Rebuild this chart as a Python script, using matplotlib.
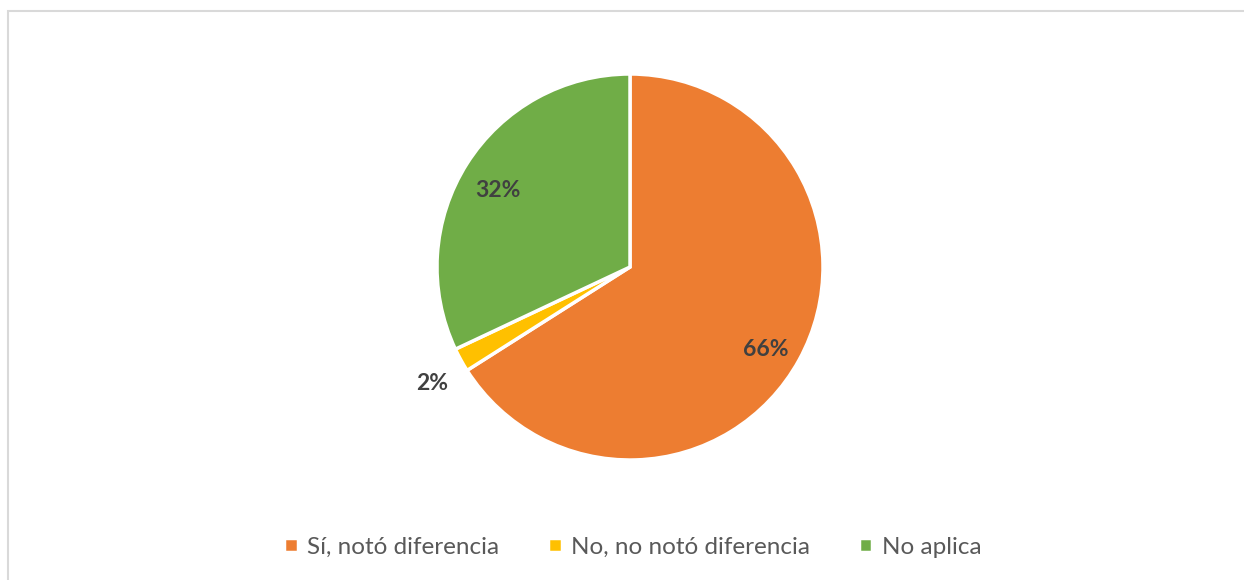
import numpy as np
import matplotlib.pyplot as plt
from matplotlib.patches import Rectangle

#%% donnees
categories = ["Sí, notó diferencia", "No, no notó diferencia", "No aplica"]
valeurs = [66, 2, 32]
couleurs = ["#ED7D31", "#FFC000", "#70AD47"]

plt.rcParams['font.family'] = ['Lato', 'DejaVu Sans']

#%% figure
fig = plt.figure(figsize=(12.44, 5.8), dpi=100)

# cadre gris (seulement haut et gauche visibles)
fig.patches.append(Rectangle((8/1244, -0.1), 1.2, (580-11)/580 + 0.1, transform=fig.transFigure,
                             fill=False, edgecolor="#D9D9D9", linewidth=1.5))

cx, cy, r = 630, 267, 193
ax = fig.add_axes([(cx - r)/1244, (580 - cy - r)/580, 2*r/1244, 2*r/580])

wedges, textes = ax.pie(valeurs, colors=couleurs, startangle=90, counterclock=False,
                        radius=1, wedgeprops=dict(edgecolor="white", linewidth=2.5))
ax.set_xlim(-1, 1)
ax.set_ylim(-1, 1)
ax.set_aspect('equal')
ax.axis('off')

# etiquettes de pourcentage (position)
dist = [0.80, 1.17, 0.81]
for w, v, d in zip(wedges, valeurs, dist):
    ang = np.deg2rad((w.theta1 + w.theta2) / 2)
    ax.text(d*np.cos(ang), d*np.sin(ang) - 0.04, f"{v}%", ha='center', va='center',
            fontsize=16.5, fontweight='bold', color="#404040")

# legende
fig.legend(wedges, categories, loc='center', bbox_to_anchor=(0.5 + 11/1244, (580-547)/580), ncol=3,
           frameon=False, fontsize=17.5, labelcolor="#595959", handlelength=0.55, handleheight=0.55,
           handletextpad=0.4, columnspacing=2.0)

plt.savefig("out.png", dpi=100)
